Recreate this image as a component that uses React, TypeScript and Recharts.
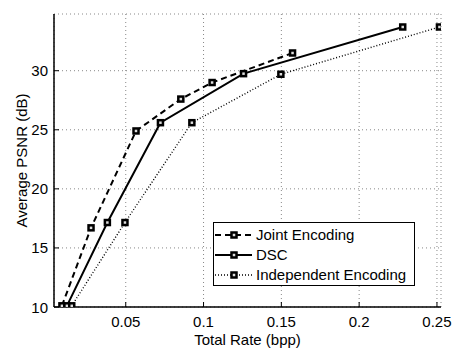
import React from "react";
import {
  LineChart,
  Line,
  XAxis,
  YAxis,
  CartesianGrid,
  Legend,
} from "recharts";

const FONT = "'Liberation Sans', Arial, Helvetica, sans-serif";

// rate (bpp) / PSNR (dB)
const jointRate = [0.009, 0.0277, 0.0566, 0.0854, 0.1055, 0.1572];
const jointPsnr = [10.1, 16.7, 24.9, 27.6, 29.0, 31.5];
const dscRate = [0.0122, 0.0382, 0.0723, 0.1257, 0.228];
const dscPsnr = [10.1, 17.15, 25.6, 29.75, 33.7];
const indepRate = [0.0153, 0.0495, 0.0925, 0.1497, 0.2516];
const indepPsnr = [10.1, 17.15, 25.6, 29.7, 33.7];

const xTicks = [0.05, 0.1, 0.15, 0.2, 0.25];
const yTicks = [10, 15, 20, 25, 30];

const toPoints = (xs: number[], ys: number[]) => xs.map((x, i) => ({ x, y: ys[i] }));
const jointData = toPoints(jointRate, jointPsnr);
const dscData = toPoints(dscRate, dscPsnr);
const indepData = toPoints(indepRate, indepPsnr);

const series = [
  { name: "Joint Encoding", dash: "6 4", width: 2, data: jointData },
  { name: "DSC", dash: undefined, width: 2, data: dscData },
  { name: "Independent Encoding", dash: "1 2", width: 1.4, data: indepData },
];

const SquareDot = (props: any) => {
  const { cx, cy } = props;
  if (cx == null || cy == null) return null;
  return (
    <rect x={cx - 2.5} y={cy - 2.5} width={5} height={5} fill="#ddd" stroke="#000" strokeWidth={2.5} />
  );
};

const BottomTick = (props: any) => {
  const { x, y, payload } = props;
  return (
    <g>
      <line x1={x} y1={y} x2={x} y2={y - 5} stroke="#000" />
      <text x={x} y={y + 14} textAnchor="middle" dominantBaseline="central" fontSize={15} fontFamily={FONT} fill="#000">
        {payload.value}
      </text>
    </g>
  );
};

const TopTick = (props: any) => {
  const { x, y } = props;
  return <line x1={x} y1={y} x2={x} y2={y + 5} stroke="#000" />;
};

const LeftTick = (props: any) => {
  const { x, y, payload } = props;
  return (
    <g>
      <line x1={x} y1={y} x2={x + 5} y2={y} stroke="#000" />
      <text x={x - 6} y={y} textAnchor="end" dominantBaseline="central" fontSize={15} fontFamily={FONT} fill="#000">
        {payload.value}
      </text>
    </g>
  );
};

const RightTick = (props: any) => {
  const { x, y } = props;
  return <line x1={x} y1={y} x2={x - 5} y2={y} stroke="#000" />;
};

const YLabel = (props: any) => {
  const { viewBox } = props;
  const x = viewBox.x + 21;
  const y = viewBox.y + viewBox.height / 2;
  return (
    <text x={x} y={y} transform={`rotate(-90 ${x} ${y})`} textAnchor="middle" dominantBaseline="central" fontSize={15} fontFamily={FONT} fill="#000">
      Average PSNR (dB)
    </text>
  );
};

const XLabel = (props: any) => {
  const { viewBox } = props;
  const x = viewBox.x + viewBox.width / 2;
  return (
    <text x={x} y={viewBox.y + 32} textAnchor="middle" dominantBaseline="central" fontSize={15} fontFamily={FONT} fill="#000">
      Total Rate (bpp)
    </text>
  );
};

const LegendBox = () => (
  <div
    style={{
      boxSizing: "border-box",
      width: 202,
      height: 64,
      border: "1.5px solid #000",
      background: "#fff",
      fontFamily: FONT,
      fontSize: 15,
      paddingTop: 2,
    }}
  >
    {series.map((s) => (
      <div key={s.name} style={{ display: "flex", alignItems: "center", height: 20 }}>
        <svg width={40} height={20} style={{ flex: "none" }}>
          <line x1={1} y1={10} x2={38} y2={10} stroke="#000" strokeWidth={s.width} strokeDasharray={s.dash} />
          <rect x={17.5} y={7.5} width={5} height={5} fill="#ddd" stroke="#000" strokeWidth={2.5} />
        </svg>
        <span style={{ marginLeft: 2, lineHeight: "20px" }}>{s.name}</span>
      </div>
    ))}
  </div>
);

export default function App() {
  return (
    <div style={{ position: "absolute", left: 0, top: 0, background: "#fff" }}>
      <LineChart width={458} height={349} margin={{ top: 14, right: 17, bottom: 0, left: 0 }}>
        <CartesianGrid stroke="#888" strokeDasharray="1 3" />
        <XAxis
          xAxisId="0"
          type="number"
          dataKey="x"
          domain={[0.0039, 0.2526]}
          ticks={xTicks}
          allowDataOverflow
          height={42}
          tickLine={false}
          tickSize={0}
          tickMargin={0}
          tick={<BottomTick />}
          axisLine={{ stroke: "#000", strokeWidth: 1.5 }}
          label={<XLabel />}
        />
        <XAxis
          xAxisId="top"
          orientation="top"
          type="number"
          dataKey="x"
          domain={[0.0039, 0.2526]}
          ticks={xTicks}
          allowDataOverflow
          height={0}
          tickLine={false}
          tickSize={0}
          tickMargin={0}
          tick={<TopTick />}
          axisLine={{ stroke: "#000", strokeWidth: 1.5 }}
        />
        <YAxis
          yAxisId="0"
          type="number"
          domain={[10, 34.8]}
          ticks={yTicks}
          allowDataOverflow
          width={54}
          tickLine={false}
          tickSize={0}
          tickMargin={0}
          tick={<LeftTick />}
          axisLine={{ stroke: "#000", strokeWidth: 1.5 }}
          label={<YLabel />}
        />
        <YAxis
          yAxisId="right"
          orientation="right"
          type="number"
          domain={[10, 34.8]}
          ticks={yTicks}
          allowDataOverflow
          width={0}
          tickLine={false}
          tickSize={0}
          tickMargin={0}
          tick={<RightTick />}
          axisLine={{ stroke: "#000", strokeWidth: 1.5 }}
        />
        {series.map((s) => (
          <Line
            key={s.name}
            xAxisId="0"
            yAxisId="0"
            data={s.data}
            dataKey="y"
            name={s.name}
            type="linear"
            stroke="#000"
            strokeWidth={s.width}
            strokeDasharray={s.dash}
            dot={<SquareDot />}
            activeDot={false}
            isAnimationActive={false}
          />
        ))}
        <Legend
          layout="vertical"
          align="center"
          verticalAlign="middle"
          content={<LegendBox />}
          wrapperStyle={{ left: 213, top: 222, width: 202, height: 64 }}
        />
      </LineChart>
    </div>
  );
}
